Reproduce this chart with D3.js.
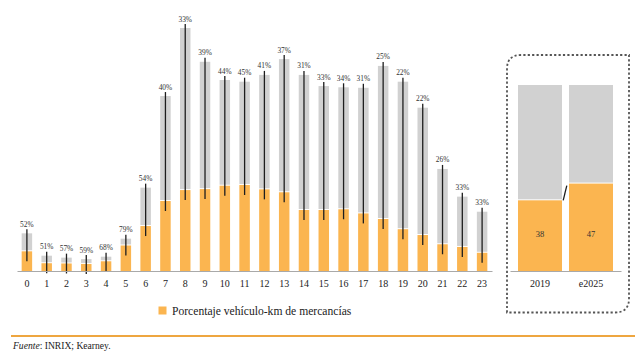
<!DOCTYPE html>
<html><head><meta charset="utf-8">
<script src="https://cdn.jsdelivr.net/npm/d3@7"></script>
<style>body{margin:0;background:#fff}svg{display:block}</style>
</head><body>
<script>
const hours = ["0","1","2","3","4","5","6","7","8","9","10","11","12","13","14","15","16","17","18","19","20","21","22","23"];
const totalKm = [15.5,6.3,5.5,4.9,5.9,13.3,34.3,72,100,86.1,78.6,77.9,80.7,87.2,80.7,76.1,75.6,75.4,84.4,77.9,67.2,42,30.6,24.4];
const freightKm = [8.1,3.2,3.1,2.9,4.0,10.5,18.5,28.8,33.3,33.7,35.1,35.4,33.6,32.4,25.1,25.1,25.4,23.7,21.4,17.2,14.8,11,9.9,7.5];
const pctLabels = ["52%","51%","57%","59%","68%","79%","54%","40%","33%","39%","44%","45%","41%","37%","31%","33%","34%","31%","25%","22%","22%","26%","33%","33%"];
const years = ["2019","e2025"];
const yearShare = [38,47];
const legendLabel = "Porcentaje vehículo-km de mercancías";
const sourceLabel = ["Fuente", ": INRIX; Kearney."];

const W=640,H=362;
const ORANGE="#fbb550", GRAY="#d1d1d1", FONT="'Liberation Serif','DejaVu Serif',serif";
const svg=d3.select("body").append("svg").attr("width",W).attr("height",H).style("font-family",FONT);

// main chart
const x=d3.scaleBand().domain(hours).range([17,492]).paddingInner(0.47).paddingOuter(0.235);
const y=d3.scaleLinear().domain([0,100]).range([271,28]);
const data=hours.map((h,i)=>({h,t:totalKm[i],f:freightKm[i],p:pctLabels[i]}));
const g=svg.append("g");
g.selectAll(".gray").data(data).join("rect").attr("x",d=>x(d.h)).attr("width",x.bandwidth())
 .attr("y",d=>y(d.t)).attr("height",d=>Math.max(0,y(d.f)-1-y(d.t))).attr("fill",GRAY);
g.selectAll(".or").data(data).join("rect").attr("x",d=>x(d.h)).attr("width",x.bandwidth())
 .attr("y",d=>y(d.f)).attr("height",d=>y(0)-y(d.f)).attr("fill",ORANGE);
g.selectAll(".wh").data(data).join("line").attr("x1",d=>x(d.h)+x.bandwidth()/2).attr("x2",d=>x(d.h)+x.bandwidth()/2)
 .attr("y1",d=>y(d.t)-4).attr("y2",d=>y(d.f)+10).attr("stroke","#1e1e1e").attr("stroke-width",1.3);
g.selectAll(".lb").data(data).join("text").attr("x",d=>x(d.h)+x.bandwidth()/2).attr("y",d=>y(d.t)-6.5)
 .attr("text-anchor","middle").attr("font-size",7.4).attr("fill","#333").style("font-family",FONT).text(d=>d.p);
const ax=svg.append("g").attr("transform",`translate(0,${y(0)})`).call(d3.axisBottom(x).tickSize(0).tickPadding(9));
ax.attr("font-family",null);
ax.select(".domain").attr("stroke","#a9a9a9").attr("stroke-width",1.2);
ax.selectAll("text").style("font-family",FONT).attr("font-size",10).attr("fill","#222");

// right panel
const x2=d3.scaleBand().domain(years).range([510,621]).paddingInner(0.137).paddingOuter(0.157);
const y2=d3.scaleLinear().domain([0,100]).range([271,85]);
const rd=years.map((yr,i)=>({yr,v:yearShare[i]}));
svg.selectAll(".g2").data(rd).join("rect").attr("x",d=>x2(d.yr)).attr("width",x2.bandwidth())
 .attr("y",y2(100)).attr("height",d=>y2(d.v)-1-y2(100)).attr("fill",GRAY);
svg.selectAll(".o2").data(rd).join("rect").attr("x",d=>x2(d.yr)).attr("width",x2.bandwidth())
 .attr("y",d=>y2(d.v)).attr("height",d=>y2(0)-y2(d.v)).attr("fill",ORANGE);
svg.selectAll(".t2").data(rd).join("text").attr("x",d=>x2(d.yr)+x2.bandwidth()/2).attr("y",y2(20))
 .attr("dy","0.35em").attr("text-anchor","middle").attr("font-size",8.5).attr("fill","#333").text(d=>d.v);
svg.append("line").attr("x1",x2(years[0])+x2.bandwidth()+1.2).attr("y1",y2(yearShare[0]))
 .attr("x2",x2(years[1])-2.2).attr("y2",y2(yearShare[1])+2).attr("stroke","#1e1e1e").attr("stroke-width",1.3);
const ax2=svg.append("g").attr("transform",`translate(0,${y2(0)})`).call(d3.axisBottom(x2).tickSize(0).tickPadding(9));
ax2.attr("font-family",null);
ax2.select(".domain").attr("stroke","#a9a9a9").attr("stroke-width",1.2);
ax2.selectAll("text").style("font-family",FONT).attr("font-size",10).attr("fill","#222");

// dotted frame with rounded TL and BR corners
const L=507,T=55,R=629,B=312.5,r=14;
svg.append("path").attr("d",`M${L},${B} L${L},${T+r} Q${L},${T} ${L+r},${T} L${R},${T} L${R},${B-r} Q${R},${B} ${R-r},${B} Z`)
 .attr("fill","none").attr("stroke","#555").attr("stroke-width",1.8).attr("stroke-dasharray","2.2,2.2");

// legend
svg.append("rect").attr("x",158.5).attr("y",306.5).attr("width",8).attr("height",8).attr("fill",ORANGE);
svg.append("text").attr("x",172).attr("y",311).attr("dy","0.35em").attr("font-size",11.6).attr("fill","#222").text(legendLabel);

// footer
svg.append("line").attr("x1",11).attr("x2",635).attr("y1",336).attr("y2",336).attr("stroke","#eea640").attr("stroke-width",2);
const ft=svg.append("text").attr("x",13).attr("y",348.5).attr("font-size",9.6).attr("fill","#222");
ft.append("tspan").attr("font-style","italic").text(sourceLabel[0]);
ft.append("tspan").text(sourceLabel[1]);
</script>
</body></html>
